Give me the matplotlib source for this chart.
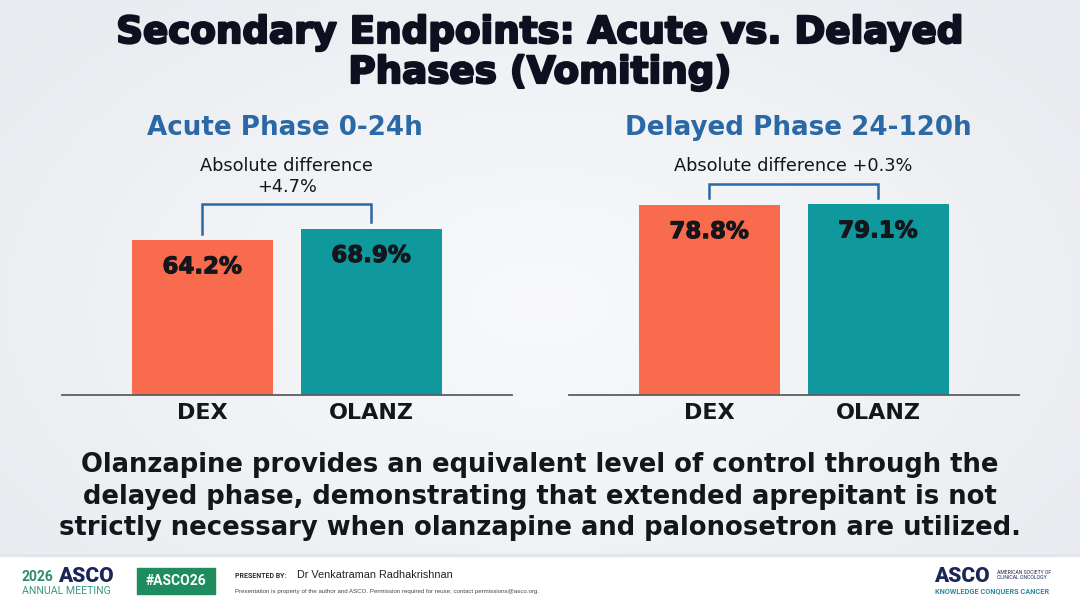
import matplotlib
matplotlib.use("Agg")
import matplotlib.pyplot as plt
import matplotlib.patheffects as pe
import numpy as np
from matplotlib.patches import Rectangle

# ---------------- data ----------------
categories = ["DEX", "OLANZ"]
acute_values = [64.2, 68.9]
delayed_values = [78.8, 79.1]
panel_titles = ["Acute Phase 0-24h", "Delayed Phase 24-120h"]
diff_labels = [["Absolute difference", "+4.7%"], ["Absolute difference +0.3%"]]
title_lines = ["Secondary Endpoints: Acute vs. Delayed", "Phases (Vomiting)"]
conclusion_lines = ["Olanzapine provides an equivalent level of control through the",
                    "delayed phase, demonstrating that extended aprepitant is not",
                    "strictly necessary when olanzapine and palonosetron are utilized."]

# ---------------- style ----------------
W, H = 1080, 608
ORANGE = "#F96B4D"
TEAL = "#0F999C"
BLUE = "#2A69A5"
DARK = "#14161C"
plt.rcParams['font.family'] = ['DejaVu Sans']

fig = plt.figure(figsize=(W / 100, H / 100), dpi=100)


def fx(x):
    return x / W


def fy(y):
    return 1 - y / H


# background gradient
bg = fig.add_axes([0, 0, 1, 1], zorder=-10)
xx, yy = np.meshgrid(np.linspace(-1, 1, 300), np.linspace(-1, 1, 170))
r = np.sqrt((xx / 1.0) ** 2 + (yy / 1.1) ** 2)
c_in = np.array([0.975, 0.978, 0.985])
c_out = np.array([0.91, 0.922, 0.938])
t = np.clip(r / 1.3, 0, 1)[..., None]
img = c_in * (1 - t) + c_out * t
bg.imshow(img, extent=[0, 1, 0, 1], aspect='auto', origin='lower')
bg.add_patch(Rectangle((0, 0), 1, fy(554), color='white', zorder=2))
bg.add_patch(Rectangle((0, fy(556)), 1, 2 / H, color='#E2E5E9', zorder=2))
bg.set_xlim(0, 1)
bg.set_ylim(0, 1)
bg.axis('off')

# main title
heavy = [pe.withStroke(linewidth=1.6, foreground='#0E1020')]
for yb, line in zip([43, 83], title_lines):
    fig.text(0.5, fy(yb), line, ha='center', va='baseline', fontsize=26.8,
             fontweight='bold', color='#0E1020', path_effects=heavy)

# panels
ax_specs = [(62, acute_values, 10.4, [2.5, 2.7], 285),
            (569, delayed_values, 8.5, [2.9, 2.7], 798)]
x_pos = np.arange(len(categories))
val_fx = [pe.withStroke(linewidth=0.8, foreground=DARK)]
for i, (left_px, vals, top_off, leg_gaps, title_cx) in enumerate(ax_specs):
    ax = fig.add_axes([fx(left_px), fy(395), 450 / W, 241 / H])
    ax.patch.set_alpha(0)
    ax.bar(x_pos, vals, width=0.835, color=[ORANGE, TEAL], zorder=2)
    ax.set_xlim(-0.83, 1.835)
    ax.set_ylim(0, 100)
    for s in ['top', 'right', 'left']:
        ax.spines[s].set_visible(False)
    ax.spines['bottom'].set_color('#5A5E66')
    ax.spines['bottom'].set_linewidth(1.3)
    ax.set_yticks([])
    ax.set_xticks(x_pos)
    ax.set_xticklabels(categories, fontsize=16, fontweight='bold', color=DARK)
    ax.tick_params(axis='x', length=0, pad=6)
    for x, v in zip(x_pos, vals):
        ax.text(x, v - 13.7, f"{v:.1f}%", ha='center', va='baseline', fontsize=16.5,
                fontweight='bold', color=DARK, zorder=3, path_effects=val_fx)
    btop = max(vals) + top_off
    ax.plot([0, 0, 1, 1], [vals[0] + leg_gaps[0], btop, btop, vals[1] + leg_gaps[1]],
            color=BLUE, lw=1.8, clip_on=False, solid_joinstyle='miter')
    cx = fx(left_px) + (0.5 + 0.83) / 2.665 * 450 / W
    for k, line in enumerate(diff_labels[i]):
        fig.text(cx, fy(171 + 21 * k), line, ha='center', va='baseline', fontsize=12.8,
                 color=DARK)
    fig.text(fx(title_cx), fy(135), panel_titles[i], ha='center', va='baseline',
             fontsize=18.8, fontweight='bold', color=BLUE)

# conclusion text
for k, line in enumerate(conclusion_lines):
    fig.text(0.5, fy(472 + 31.5 * k), line, ha='center', va='baseline', fontsize=18.6,
             fontweight='bold', color=DARK)

# footer
fig.text(fx(22), fy(581), "2026", ha='left', va='baseline', fontsize=10,
         family=['Roboto'], fontweight='bold', color='#2E8B6E')
fig.text(fx(58), fy(582), "ASCO", ha='left', va='baseline', fontsize=15,
         family=['Roboto'], fontweight='black', color='#1B2557')
fig.text(fx(22), fy(594.5), "ANNUAL MEETING", ha='left', va='baseline', fontsize=7.6,
         family=['Roboto'], color='#3A9A82')
bg.add_patch(Rectangle((fx(137), fy(594)), 78 / W, 26 / H, color='#1E8C5C', zorder=3))
fig.text(fx(176), fy(581), "#ASCO26", ha='center', va='center', fontsize=10,
         family=['Roboto'], fontweight='bold', color='white')
fig.text(fx(235), fy(576), "PRESENTED BY:", ha='left', va='center', fontsize=5,
         family=['Roboto'], fontweight='bold', color='#2A2E40')
fig.text(fx(297), fy(575), "Dr Venkatraman Radhakrishnan", ha='left', va='center',
         fontsize=7.8, family=['Liberation Sans'], color='#222222')
fig.text(fx(235), fy(591), "Presentation is property of the author and ASCO. Permission required for reuse; contact permissions@asco.org.",
         ha='left', va='center', fontsize=4.4, family=['Liberation Sans'],
         color='#444444')
fig.text(fx(934), fy(582), "ASCO", ha='left', va='baseline', fontsize=15,
         family=['Roboto'], fontweight='black', color='#1B2557')
fig.text(fx(997), fy(575), "AMERICAN SOCIETY OF\nCLINICAL ONCOLOGY", ha='left', va='center',
         fontsize=3.7, family=['Roboto'], color='#1B2557', linespacing=1.2)
fig.text(fx(935), fy(593.5), "KNOWLEDGE CONQUERS CANCER", ha='left', va='baseline',
         fontsize=5.3, family=['Roboto'], fontweight='bold', color='#2C8CA0')

fig.savefig("out.png", dpi=100)
